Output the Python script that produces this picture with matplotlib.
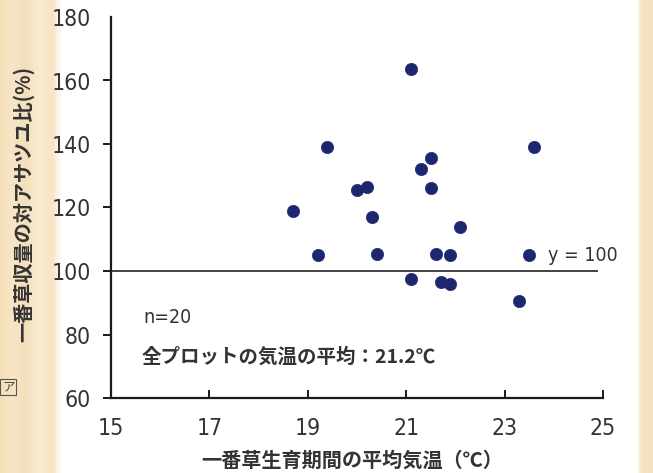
import numpy as np
import matplotlib
matplotlib.use("Agg")
import matplotlib.pyplot as plt
from matplotlib import font_manager
from matplotlib.font_manager import FontProperties

# Mean air temperature during first-cut growth (°C) and yield ratio vs. Asatsuyu (%)
temperature = [18.7, 19.2, 19.4, 20.0, 20.2, 20.3, 20.4, 21.1, 21.1, 21.3,
               21.5, 21.5, 21.6, 21.7, 21.9, 21.9, 22.1, 23.3, 23.5, 23.6]
yield_ratio = [119, 105, 139, 125.5, 126.5, 117, 105.5, 163.5, 97.5, 132,
               135.5, 126, 105.5, 96.5, 105, 96, 114, 90.5, 105, 139]

x_ticks = [15, 17, 19, 21, 23, 25]
y_ticks = [60, 80, 100, 120, 140, 160, 180]
reference_level = 100
mean_temp_label = "全プロットの気温の平均：21.2℃"
n_label = "n=20"
ref_label = "y = 100"

xlabel = "一番草生育期間の平均気温（℃）"
ylabel = "一番草収量の対アサツユ比(%)"

# a narrow sans for the numbers, if one is installed
narrow = None
for f in font_manager.fontManager.ttflist:
    fn = f.fname.lower()
    if ("narrow" in fn or "condensed" in fn) and "bold" not in fn and "italic" not in fn \
            and "oblique" not in fn and "light" not in fn:
        narrow = f.fname
        break
if narrow:
    num_fp = lambda size: FontProperties(fname=narrow, size=size)
else:
    num_fp = lambda size: FontProperties(family="Liberation Sans", size=size)
jp_font = ["Noto Sans CJK JP", "DejaVu Sans"]
text_col = "#333333"

W, H, DPI = 653, 473, 100
fig = plt.figure(figsize=(W / DPI, H / DPI), dpi=DPI)
fig.patch.set_facecolor("white")

# paper tone along the page edges
bg = fig.add_axes([0, 0, 1, 1], zorder=-10)
cols = np.arange(W)
stops_x = [0, 12, 25, 40, 52, 58, 62, 636, 641, 653]
stops_c = np.array([
    [243, 222, 184], [247, 230, 198], [243, 223, 188], [249, 236, 212],
    [246, 228, 196], [252, 246, 234], [255, 255, 255], [255, 255, 255],
    [246, 228, 196], [244, 224, 188]]) / 255.0
img = np.stack([np.interp(cols, stops_x, stops_c[:, k]) for k in range(3)], axis=-1)
bg.imshow(img[None, :, :], aspect="auto", extent=[0, W, 0, H])
bg.set_xlim(0, W)
bg.set_ylim(0, H)
bg.axis("off")

ax = fig.add_axes([111 / W, 1 - 398 / H, (603 - 111) / W, (398 - 17) / H])
ax.set_facecolor("none")

ax.scatter(temperature, yield_ratio, s=78, color="#1d2770", edgecolors="#1d2770",
           linewidths=0.5, zorder=3)
ax.hlines(reference_level, 15, 24.9, color="#333333", linewidth=1.3, zorder=2)

ax.set_xlim(15, 25)
ax.set_ylim(60, 180)
ax.set_xticks(x_ticks)
ax.set_yticks(y_ticks)

for s in ["top", "right"]:
    ax.spines[s].set_visible(False)
for s in ["left", "bottom"]:
    ax.spines[s].set_linewidth(1.6)
    ax.spines[s].set_color("#1a1a1a")

ax.tick_params(axis="x", direction="in", length=5.5, width=1.4, color="#1a1a1a",
               pad=14, labelcolor=text_col)
ax.tick_params(axis="y", direction="out", length=5.5, width=1.4, color="#1a1a1a",
               pad=9, labelcolor=text_col)
for lab in ax.get_xticklabels() + ax.get_yticklabels():
    lab.set_fontproperties(num_fp(16.5))
# the top y tick points into the plot
ax.yaxis.get_major_ticks()[-1].tick1line.set_visible(False)
ax.set_yticks([180], minor=True)
ax.tick_params(axis="y", which="minor", direction="in", length=5.5, width=1.4,
               color="#1a1a1a")
# the leftmost x tick coincides with the axis corner
ax.xaxis.get_major_ticks()[0].tick1line.set_visible(False)

fig.text(352 / W, 1 - 460 / H, xlabel, family=jp_font, fontsize=14.5, fontweight="bold",
         color=text_col, ha="center", va="center")
fig.text(23 / W, 1 - 204 / H, ylabel, family=jp_font, fontsize=14.5,
         fontweight="bold", color=text_col, rotation=90, ha="center", va="center")

ax.text(15.65, 85.5, n_label, fontproperties=num_fp(14), color=text_col,
        ha="left", va="center")
ax.text(15.63, 73.0, mean_temp_label, family=jp_font, fontsize=14,
        fontweight="bold", color=text_col, ha="left", va="center")
ax.text(23.88, 105, ref_label, fontproperties=num_fp(14), color=text_col,
        ha="left", va="center")

# label box from the neighbouring figure at the page edge
fig.text(2 / W, 1 - 387 / H, "ア", family=jp_font, fontsize=9, color="#444444",
         ha="left", va="center",
         bbox=dict(boxstyle="square,pad=0.15", facecolor="none",
                   edgecolor="#555555", linewidth=0.8))

fig.savefig("out.png", dpi=DPI)
